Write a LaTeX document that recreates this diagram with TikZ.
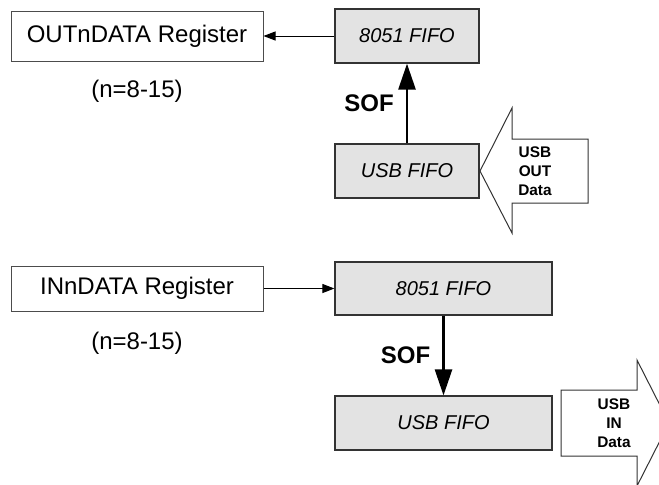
\documentclass[tikz,border=0pt]{standalone}
\usepackage{fontspec}
\setmainfont{Liberation Sans}
\usepackage{tikz}
\usetikzlibrary{arrows.meta,positioning}

\begin{document}
\begin{tikzpicture}
      [x=0.5pt, y=-0.5pt,
      reg box/.style={draw=black!70, line width=0.5pt, rectangle, align=center, minimum width=126pt, font=\fontsize{12}{14}\selectfont},
      fifo box/.style={draw=black!80, line width=0.6pt, rectangle, fill=black!11, align=center, minimum height=27pt, font=\fontsize{10}{12}\selectfont\itshape},
      note/.style={font=\fontsize{12}{14}\selectfont},
      data arrow/.style={draw=black!80, line width=0.5pt, fill=white},
      data text/.style={align=center, inner sep=0pt, font=\fontsize{7.7}{9.5}\selectfont\bfseries},
      thin link/.style={draw, line width=0.5pt, -{Triangle[length=6pt,width=4.5pt]}},
      sof link/.style={draw, line width=1.3pt, -{Triangle[length=13pt,width=8.5pt]}},
      sof label/.style={inner sep=0pt, font=\fontsize{12}{14}\selectfont\bfseries}
      ]
    \useasboundingbox (0,0) rectangle (659,484);

    % OUT direction
    \node[reg box, minimum height=25pt] (outreg) at (137,36) {OUTnDATA Register};
    \node[note] (outnote) at (137,91) {(n=8-15)};
    \node[fifo box, minimum width=72pt] (outcpu) at (407,36) {8051 FIFO};
    \node[fifo box, minimum width=72pt] (outusb) at (407,171) {USB FIFO};
    \draw[data arrow] (480,171) -- (512,108) -- (512,139) -- (588,139)
        -- (588,203) -- (512,203) -- (512,233) -- cycle;
    \node[data text] (outdata) at (535,171) {USB\\OUT\\Data};
    \path[thin link] (outcpu.west) -- (outreg.east);
    \path[sof link] (outusb.north) -- node[sof label, midway, left=6pt] {SOF} (outcpu.south);

    % IN direction
    \node[reg box, minimum height=22.5pt] (inreg) at (137,288.5) {INnDATA Register};
    \node[note] (innote) at (137,343) {(n=8-15)};
    \node[fifo box, minimum width=108.5pt, minimum height=26.5pt] (incpu) at (443.5,288.5) {8051 FIFO};
    \node[fifo box, minimum width=108.5pt] (inusb) at (443.5,423) {USB FIFO};
    \draw[data arrow] (561,390) -- (637,390) -- (637,360) -- (669,423)
        -- (637,486) -- (637,456) -- (561,456) -- cycle;
    \node[data text] (indata) at (614,423) {USB\\IN\\Data};
    \path[thin link] (inreg.east) -- (incpu.west);
    \path[sof link] (incpu.south) -- node[sof label, midway, left=6pt] {SOF} (inusb.north);
\end{tikzpicture}
\end{document}
